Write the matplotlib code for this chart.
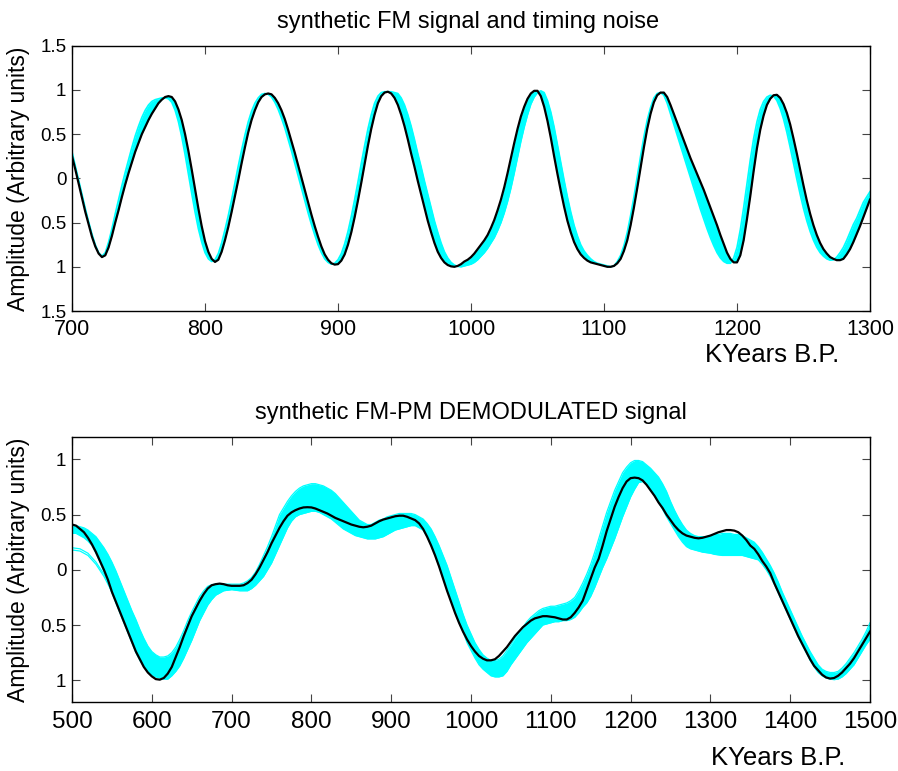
import numpy as np
import matplotlib
matplotlib.use("Agg")
import matplotlib.pyplot as plt

plt.rcParams['font.family'] = ['Liberation Sans', 'DejaVu Sans']

# top panel: FM signal (black) and far edge of the timing-noise ensemble (cyan)
t_top = np.arange(700, 1300.1, 2.5)
fm_black = [
    0.25, 0.10, -0.06, -0.22, -0.38, -0.52, -0.66, -0.77, -0.85, -0.89,
    -0.87, -0.78, -0.65, -0.50, -0.36, -0.21, -0.07, 0.06, 0.18, 0.30,
    0.40, 0.50, 0.58, 0.66, 0.73, 0.79, 0.85, 0.89, 0.92, 0.93,
    0.92, 0.87, 0.78, 0.66, 0.50, 0.31, 0.10, -0.12, -0.34, -0.54,
    -0.71, -0.83, -0.91, -0.945, -0.92, -0.83, -0.70, -0.55, -0.38, -0.20,
    -0.02, 0.17, 0.35, 0.52, 0.66, 0.77, 0.86, 0.92, 0.95, 0.96,
    0.95, 0.91, 0.85, 0.77, 0.67, 0.55, 0.42, 0.29, 0.15, 0.01,
    -0.13, -0.27, -0.41, -0.54, -0.66, -0.77, -0.86, -0.92, -0.96, -0.975,
    -0.97, -0.93, -0.86, -0.75, -0.61, -0.44, -0.25, -0.05, 0.16, 0.37,
    0.56, 0.72, 0.85, 0.93, 0.97, 0.98, 0.96, 0.91, 0.83, 0.72,
    0.59, 0.44, 0.28, 0.13, -0.03, -0.18, -0.33, -0.48, -0.61, -0.73,
    -0.83, -0.90, -0.95, -0.98, -0.995, -1.0, -0.99, -0.97, -0.94, -0.92,
    -0.89, -0.85, -0.80, -0.75, -0.70, -0.64, -0.56, -0.47, -0.36, -0.24,
    -0.10, 0.06, 0.23, 0.40, 0.56, 0.70, 0.81, 0.90, 0.96, 0.99,
    0.99, 0.93, 0.81, 0.65, 0.46, 0.25, 0.05, -0.14, -0.32, -0.48,
    -0.61, -0.72, -0.80, -0.86, -0.90, -0.93, -0.95, -0.96, -0.97, -0.98,
    -0.99, -1.0, -1.0, -0.99, -0.96, -0.91, -0.82, -0.70, -0.53, -0.33,
    -0.11, 0.12, 0.35, 0.56, 0.73, 0.86, 0.94, 0.97, 0.97, 0.92,
    0.83, 0.73, 0.63, 0.53, 0.43, 0.33, 0.23, 0.14, 0.05, -0.04,
    -0.13, -0.23, -0.33, -0.43, -0.53, -0.64, -0.74, -0.84, -0.91, -0.95,
    -0.95, -0.87, -0.70, -0.46, -0.20, 0.08, 0.34, 0.55, 0.71, 0.83,
    0.90, 0.94, 0.945, 0.91, 0.84, 0.74, 0.61, 0.45, 0.28, 0.10,
    -0.08, -0.25, -0.40, -0.53, -0.64, -0.73, -0.80, -0.85, -0.89, -0.91,
    -0.925, -0.925, -0.91, -0.86, -0.80, -0.72, -0.63, -0.54, -0.44, -0.34,
    -0.24]
fm_cyan = [
    0.30, 0.14, -0.02, -0.18, -0.34, -0.49, -0.63, -0.75, -0.84, -0.88,
    -0.84, -0.72, -0.57, -0.40, -0.24, -0.08, 0.07, 0.21, 0.35, 0.48,
    0.59, 0.69, 0.77, 0.83, 0.87, 0.89, 0.90, 0.91, 0.91, 0.90,
    0.86, 0.77, 0.64, 0.47, 0.27, 0.05, -0.17, -0.38, -0.57, -0.72,
    -0.84, -0.91, -0.94, -0.92, -0.85, -0.73, -0.58, -0.42, -0.24, -0.05,
    0.14, 0.32, 0.49, 0.64, 0.76, 0.85, 0.91, 0.95, 0.96, 0.95,
    0.92, 0.86, 0.78, 0.68, 0.57, 0.44, 0.31, 0.17, 0.03, -0.11,
    -0.25, -0.39, -0.52, -0.64, -0.75, -0.84, -0.91, -0.95, -0.97, -0.96,
    -0.92, -0.85, -0.74, -0.60, -0.43, -0.24, -0.04, 0.17, 0.37, 0.56,
    0.72, 0.85, 0.93, 0.97, 0.98, 0.98, 0.98, 0.97, 0.96, 0.91,
    0.83, 0.72, 0.59, 0.44, 0.28, 0.13, -0.03, -0.18, -0.33, -0.48,
    -0.61, -0.73, -0.83, -0.90, -0.95, -0.98, -0.995, -1.0, -0.99, -0.98,
    -0.97, -0.95, -0.92, -0.88, -0.84, -0.79, -0.73, -0.67, -0.59, -0.50,
    -0.39, -0.26, -0.11, 0.06, 0.24, 0.42, 0.58, 0.72, 0.84, 0.92,
    0.97, 0.99, 0.97, 0.88, 0.75, 0.58, 0.38, 0.18, -0.02, -0.21,
    -0.38, -0.53, -0.65, -0.75, -0.82, -0.87, -0.91, -0.94, -0.96, -0.97,
    -0.98, -0.99, -1.0, -0.99, -0.94, -0.87, -0.76, -0.61, -0.42, -0.21,
    0.02, 0.25, 0.47, 0.66, 0.80, 0.91, 0.96, 0.97, 0.94, 0.85,
    0.73, 0.61, 0.49, 0.37, 0.25, 0.13, 0.01, -0.11, -0.23, -0.35,
    -0.46, -0.57, -0.67, -0.76, -0.84, -0.90, -0.94, -0.96, -0.96, -0.90,
    -0.78, -0.58, -0.33, -0.06, 0.21, 0.45, 0.64, 0.78, 0.87, 0.92,
    0.94, 0.93, 0.88, 0.79, 0.67, 0.52, 0.35, 0.17, -0.01, -0.18,
    -0.34, -0.48, -0.60, -0.70, -0.78, -0.84, -0.88, -0.91, -0.925, -0.92,
    -0.89, -0.84, -0.78, -0.70, -0.61, -0.52, -0.45, -0.36, -0.27, -0.21,
    -0.15]

# bottom panel: demodulated signal (black) and ensemble spread (cyan)
t_bot = np.arange(500, 1500.1, 5)
dem_black = [
    0.41, 0.40, 0.37, 0.34, 0.29, 0.23, 0.16, 0.08, 0.00, -0.09,
    -0.20, -0.29, -0.38, -0.47, -0.56, -0.65, -0.74, -0.81, -0.88, -0.93,
    -0.965, -0.99, -0.995, -0.98, -0.94, -0.88, -0.79, -0.70, -0.60, -0.51,
    -0.42, -0.35, -0.28, -0.22, -0.17, -0.14, -0.13, -0.125, -0.13, -0.14,
    -0.145, -0.145, -0.145, -0.14, -0.12, -0.09, -0.04, 0.02, 0.09, 0.16,
    0.24, 0.31, 0.38, 0.44, 0.49, 0.52, 0.54, 0.555, 0.565, 0.567,
    0.565, 0.555, 0.54, 0.525, 0.51, 0.49, 0.47, 0.455, 0.44, 0.425,
    0.41, 0.40, 0.39, 0.385, 0.39, 0.40, 0.42, 0.44, 0.455, 0.465,
    0.475, 0.485, 0.49, 0.49, 0.48, 0.465, 0.45, 0.42, 0.37, 0.30,
    0.22, 0.13, 0.03, -0.08, -0.19, -0.29, -0.39, -0.48, -0.56, -0.63,
    -0.69, -0.74, -0.78, -0.805, -0.82, -0.82, -0.81, -0.78, -0.74, -0.70,
    -0.65, -0.60, -0.56, -0.52, -0.49, -0.46, -0.44, -0.43, -0.42, -0.42,
    -0.425, -0.43, -0.44, -0.45, -0.45, -0.43, -0.39, -0.34, -0.28, -0.18,
    -0.08, 0.02, 0.10, 0.22, 0.35, 0.46, 0.57, 0.66, 0.74, 0.80,
    0.83, 0.835, 0.83, 0.81, 0.77, 0.72, 0.67, 0.61, 0.56, 0.50,
    0.45, 0.40, 0.36, 0.33, 0.31, 0.30, 0.29, 0.285, 0.29, 0.30,
    0.31, 0.325, 0.34, 0.35, 0.36, 0.36, 0.355, 0.34, 0.31, 0.27,
    0.22, 0.19, 0.14, 0.08, 0.03, -0.03, -0.12, -0.20, -0.28, -0.36,
    -0.44, -0.52, -0.60, -0.67, -0.74, -0.81, -0.87, -0.91, -0.95, -0.975,
    -0.985, -0.98, -0.96, -0.93, -0.89, -0.85, -0.80, -0.74, -0.68, -0.62,
    -0.56]
dem_cyan_hi = [
    0.40, 0.40, 0.39, 0.38, 0.36, 0.33, 0.30, 0.25, 0.20, 0.14,
    0.07, -0.01, -0.10, -0.19, -0.28, -0.37, -0.45, -0.54, -0.62, -0.69,
    -0.74, -0.77, -0.79, -0.79, -0.78, -0.75, -0.70, -0.63, -0.55, -0.46,
    -0.38, -0.31, -0.24, -0.19, -0.15, -0.135, -0.13, -0.13, -0.13, -0.13,
    -0.13, -0.13, -0.13, -0.12, -0.10, -0.07, -0.02, 0.05, 0.13, 0.21,
    0.30, 0.40, 0.50, 0.56, 0.62, 0.67, 0.71, 0.74, 0.76, 0.77,
    0.78, 0.78, 0.77, 0.76, 0.74, 0.72, 0.69, 0.65, 0.61, 0.57,
    0.53, 0.49, 0.45, 0.43, 0.41, 0.41, 0.43, 0.45, 0.46, 0.48,
    0.49, 0.50, 0.51, 0.51, 0.51, 0.51, 0.50, 0.48, 0.46, 0.42,
    0.37, 0.30, 0.22, 0.13, 0.04, -0.07, -0.18, -0.29, -0.40, -0.50,
    -0.58, -0.66, -0.72, -0.77, -0.80, -0.82, -0.82, -0.81, -0.78, -0.73,
    -0.68, -0.62, -0.57, -0.52, -0.47, -0.43, -0.40, -0.37, -0.35, -0.34,
    -0.33, -0.33, -0.32, -0.31, -0.30, -0.28, -0.25, -0.19, -0.12, -0.04,
    0.05, 0.16, 0.28, 0.40, 0.52, 0.62, 0.72, 0.80, 0.88, 0.93,
    0.97, 0.99, 0.99, 0.98, 0.95, 0.92, 0.88, 0.84, 0.78, 0.71,
    0.62, 0.54, 0.47, 0.41, 0.36, 0.33, 0.31, 0.30, 0.30, 0.30,
    0.31, 0.32, 0.32, 0.33, 0.33, 0.33, 0.32, 0.32, 0.31, 0.29,
    0.27, 0.25, 0.21, 0.16, 0.10, 0.04, -0.03, -0.11, -0.20, -0.28,
    -0.36, -0.44, -0.52, -0.60, -0.67, -0.74, -0.80, -0.86, -0.90, -0.92,
    -0.93, -0.93, -0.92, -0.89, -0.85, -0.80, -0.75, -0.69, -0.63, -0.56,
    -0.48]
dem_cyan_lo = [
    0.33, 0.33, 0.31, 0.29, 0.26, 0.22, 0.15, 0.07, -0.02, -0.11,
    -0.21, -0.30, -0.39, -0.48, -0.57, -0.66, -0.75, -0.82, -0.88, -0.92,
    -0.95, -0.97, -0.98, -0.99, -0.99, -0.96, -0.92, -0.87, -0.80, -0.72,
    -0.64, -0.55, -0.46, -0.39, -0.32, -0.27, -0.23, -0.21, -0.19, -0.185,
    -0.18, -0.185, -0.19, -0.19, -0.19, -0.17, -0.14, -0.10, -0.06, 0.00,
    0.06, 0.14, 0.22, 0.30, 0.38, 0.44, 0.48, 0.50, 0.51, 0.52,
    0.53, 0.53, 0.52, 0.50, 0.48, 0.46, 0.43, 0.40, 0.37, 0.35,
    0.33, 0.31, 0.30, 0.29, 0.28, 0.28, 0.28, 0.29, 0.30, 0.32,
    0.34, 0.36, 0.37, 0.38, 0.39, 0.40, 0.40, 0.38, 0.36, 0.30,
    0.22, 0.13, 0.03, -0.08, -0.18, -0.28, -0.39, -0.48, -0.56, -0.66,
    -0.73, -0.80, -0.86, -0.90, -0.93, -0.96, -0.97, -0.97, -0.96, -0.92,
    -0.86, -0.81, -0.76, -0.71, -0.66, -0.62, -0.58, -0.54, -0.50, -0.49,
    -0.48, -0.47, -0.47, -0.46, -0.46, -0.45, -0.43, -0.39, -0.34, -0.30,
    -0.24, -0.16, -0.07, 0.02, 0.10, 0.19, 0.28, 0.38, 0.48, 0.57,
    0.66, 0.73, 0.79, 0.80, 0.77, 0.72, 0.67, 0.61, 0.55, 0.48,
    0.42, 0.36, 0.30, 0.25, 0.21, 0.19, 0.18, 0.17, 0.16, 0.155,
    0.15, 0.14, 0.135, 0.13, 0.13, 0.13, 0.13, 0.13, 0.13, 0.12,
    0.11, 0.10, 0.09, 0.05, 0.00, -0.06, -0.13, -0.21, -0.29, -0.37,
    -0.45, -0.53, -0.61, -0.68, -0.75, -0.82, -0.88, -0.93, -0.96, -0.98,
    -0.99, -0.995, -0.99, -0.97, -0.94, -0.90, -0.86, -0.80, -0.74, -0.68,
    -0.63]
# the two low outlier members at the start of the record
t_out = np.arange(500, 561, 10)
dem_out_a = [0.18, 0.17, 0.13, 0.05, -0.06, -0.20, -0.38]
dem_out_b = [0.20, 0.19, 0.15, 0.07, -0.04, -0.18, -0.36]

cyan = '#00ffff'
fig = plt.figure(figsize=(8.98, 7.71), dpi=100)
ax1 = fig.add_axes([0.0802, 0.5966, 0.8886, 0.3441])
ax2 = fig.add_axes([0.0802, 0.0891, 0.8886, 0.3437])

ax1.fill_between(t_top, fm_black, fm_cyan, color=cyan, lw=0)
ax1.plot(t_top, fm_cyan, color=cyan, lw=1.2)
ax1.plot(t_top, fm_black, color='black', lw=1.6)
ax1.set_xlim(700, 1300)
ax1.set_ylim(-1.5, 1.5)
ax1.set_xticks(range(700, 1301, 100))
ax1.set_yticks([-1.5, -1, -0.5, 0, 0.5, 1, 1.5])
ax1.set_yticklabels(['1.5', '1', '0.5', '0', '0.5', '1', '1.5'])

ax2.fill_between(t_bot, dem_cyan_lo, dem_cyan_hi, color=cyan, lw=0)
ax2.plot(t_bot, dem_cyan_lo, color=cyan, lw=0.9)
ax2.plot(t_bot, dem_cyan_hi, color=cyan, lw=0.9)
ax2.plot(t_out, dem_out_a, color=cyan, lw=0.9)
ax2.plot(t_out, dem_out_b, color=cyan, lw=0.9)
ax2.plot(t_bot, dem_black, color='black', lw=1.6)
ax2.set_xlim(500, 1500)
ax2.set_ylim(-1.2, 1.2)
ax2.set_xticks(range(500, 1501, 100))
ax2.set_yticks([-1, -0.5, 0, 0.5, 1])
ax2.set_yticklabels(['1', '0.5', '0', '0.5', '1'])

for ax, xs in [(ax1, 15.5), (ax2, 17.5)]:
    ax.tick_params(direction='in', top=True, right=True, length=6, width=0.8,
                   color='#444444')
    ax.tick_params(axis='x', labelsize=xs, pad=6)
    ax.tick_params(axis='y', labelsize=13.5, pad=4)
    ax.set_ylabel('Amplitude (Arbitrary units)', fontsize=16.5)
    ax.yaxis.set_label_coords(-0.053, 0.5)
    for s in ax.spines.values():
        s.set_linewidth(1.0)

fig.text(0.521, 1 - 22 / 771, 'synthetic FM signal and timing noise',
         ha='center', va='center', fontsize=17)
fig.text(0.524, 1 - 413 / 771, 'synthetic FM-PM DEMODULATED signal',
         ha='center', va='center', fontsize=17)
fig.text(0.86, 1 - 355 / 771, 'KYears B.P.', ha='center', va='center', fontsize=18.5)
fig.text(0.866, 1 - 758 / 771, 'KYears B.P.', ha='center', va='center', fontsize=18.5)

fig.savefig('out.png', dpi=100)
